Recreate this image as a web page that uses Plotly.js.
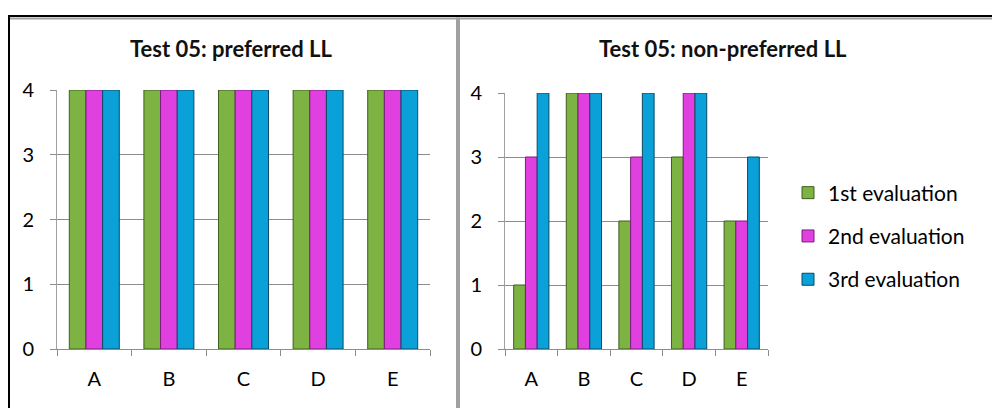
<!DOCTYPE html>
<html>
<head>
<meta charset="utf-8">
<script src="https://cdn.plot.ly/plotly-3.0.1.min.js"></script>
<style>html,body{margin:0;padding:0;background:#fff;}#chart{width:992px;height:408px;}</style>
</head>
<body>
<div id="chart"></div>
<script>
const categories = ["A", "B", "C", "D", "E"];
const seriesNames = ["1st evaluation", "2nd evaluation", "3rd evaluation"];
const preferred1 = [4, 4, 4, 4, 4];
const preferred2 = [4, 4, 4, 4, 4];
const preferred3 = [4, 4, 4, 4, 4];
const nonPreferred1 = [1, 4, 2, 3, 2];
const nonPreferred2 = [3, 4, 3, 4, 2];
const nonPreferred3 = [4, 4, 4, 4, 3];
const titles = ["Test 05: preferred LL", "Test 05: non-preferred LL"];
const yTicks = [0, 1, 2, 3, 4];

const colors = ["#7cb342", "#e040e0", "#0aa0d8"];
const edges = ["#3f5e1f", "#7a1f7a", "#0b4a66"];
const FONT = "Lato, 'Open Sans', sans-serif";

const leftData = [preferred1, preferred2, preferred3];
const rightData = [nonPreferred1, nonPreferred2, nonPreferred3];

const traces = [];
leftData.forEach((vals, i) => {
  traces.push({type: "bar", x: categories, y: vals, name: seriesNames[i], xaxis: "x", yaxis: "y",
    marker: {color: colors[i], line: {color: edges[i], width: 1}}, showlegend: false, legendgroup: "g" + i});
});
rightData.forEach((vals, i) => {
  traces.push({type: "bar", x: categories, y: vals, name: seriesNames[i], xaxis: "x2", yaxis: "y2",
    marker: {color: colors[i], line: {color: edges[i], width: 1}}, showlegend: true, legendgroup: "g" + i});
});

const W = 992, H = 408;
const px = v => v / W, py = v => 1 - v / H;
const gray = "#a0a0a0";

const yax = {range: [0, 4], tickvals: yTicks, showgrid: true, gridcolor: "#8c8c8c", gridwidth: 1,
  showline: true, linecolor: gray, linewidth: 1, ticks: "outside", ticklen: 6, tickcolor: "#8c8c8c",
  tickfont: {family: FONT, size: 20, color: "#000"}, zeroline: false, fixedrange: true, ticklabelstandoff: 12};
const xax = {type: "category", showline: true, linecolor: "#8c8c8c", linewidth: 1, ticks: "outside", ticklen: 6,
  tickcolor: "#8c8c8c", tickson: "boundaries", showgrid: false, tickfont: {family: FONT, size: 20, color: "#000"},
  ticklabelstandoff: 12, fixedrange: true};

const layout = {
  width: W, height: H, margin: {l: 0, r: 0, t: 0, b: 0}, paper_bgcolor: "#fff", plot_bgcolor: "#fff",
  barmode: "group", bargap: 0.33, bargroupgap: 0,
  xaxis: Object.assign({}, xax, {domain: [px(57), px(430)], anchor: "y"}),
  yaxis: Object.assign({}, yax, {domain: [py(349), py(90)], anchor: "x"}),
  xaxis2: Object.assign({}, xax, {domain: [px(505), px(768)], anchor: "y2"}),
  yaxis2: Object.assign({}, yax, {domain: [py(349), py(93)], anchor: "x2"}),
  showlegend: true,
  legend: {x: px(788), y: py(236), xanchor: "left", yanchor: "middle", tracegroupgap: 13,
    font: {family: FONT, size: 21, color: "#000"}, itemwidth: 30, bgcolor: "rgba(0,0,0,0)"},
  annotations: [
    {text: "<b>" + titles[0] + "</b>", x: px(231), y: py(48), xref: "paper", yref: "paper", xanchor: "center", yanchor: "middle", showarrow: false,
      font: {family: FONT, size: 22, color: "#111"}},
    {text: "<b>" + titles[1] + "</b>", x: px(723), y: py(48), xref: "paper", yref: "paper", xanchor: "center", yanchor: "middle", showarrow: false,
      font: {family: FONT, size: 22, color: "#111"}}
  ],
  shapes: [
    {type: "line", xref: "paper", yref: "paper", x0: px(8), x1: 1, y0: py(16), y1: py(16), line: {color: "#000", width: 2}},
    {type: "line", xref: "paper", yref: "paper", x0: px(9), x1: px(9), y0: py(15), y1: 0, line: {color: "#000", width: 2}},
    {type: "line", xref: "paper", yref: "paper", x0: px(10), x1: 1, y0: py(18.5), y1: py(18.5), line: {color: gray, width: 2}},
    {type: "line", xref: "paper", yref: "paper", x0: px(458), x1: px(458), y0: py(17.5), y1: 0, line: {color: gray, width: 4}}
  ]
};

Plotly.newPlot("chart", traces, layout, {displayModeBar: false, staticPlot: true});
</script>
</body>
</html>
